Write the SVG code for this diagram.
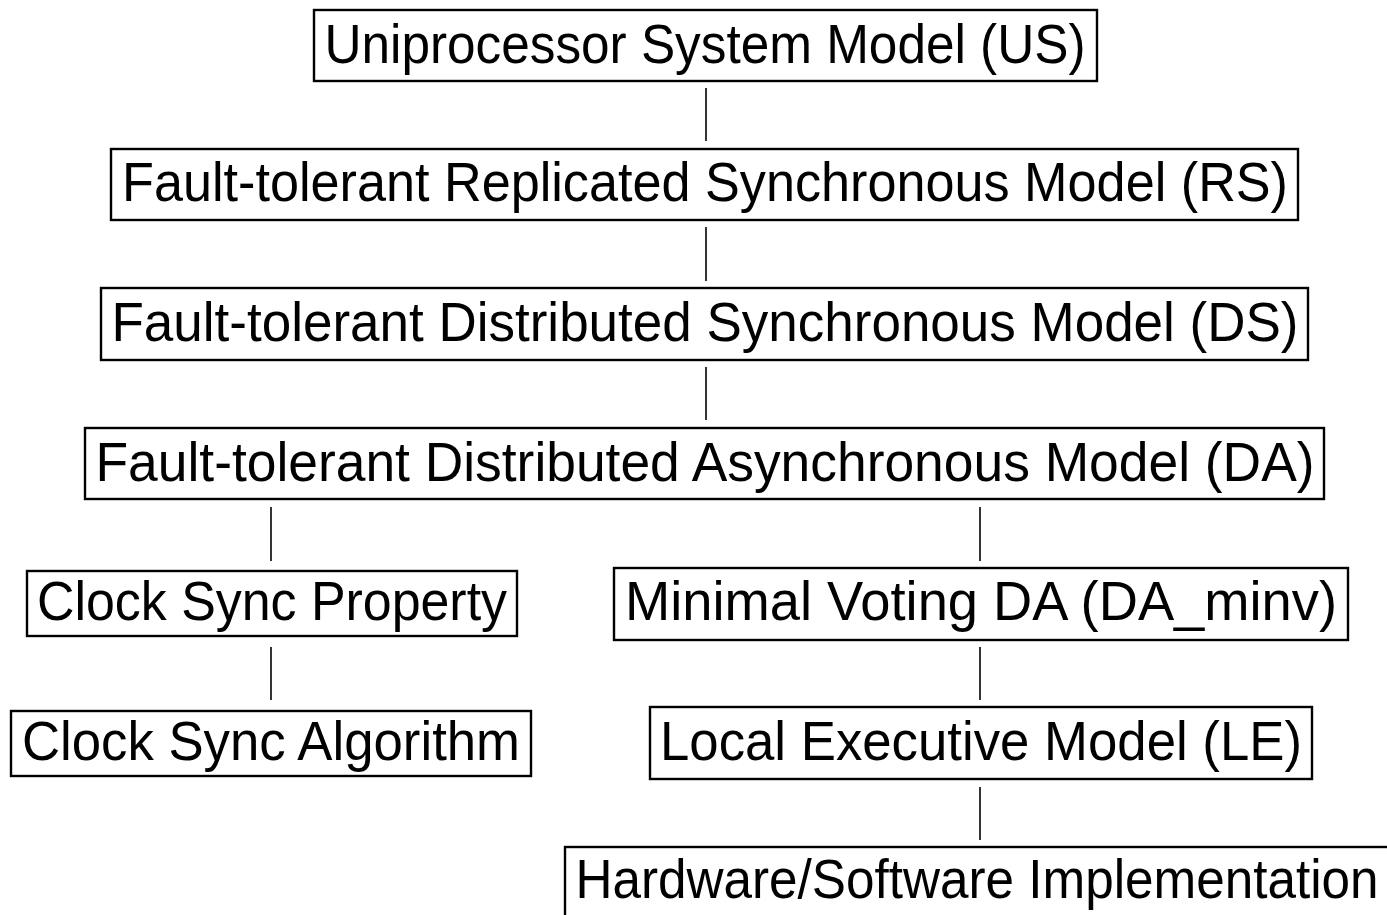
<svg xmlns="http://www.w3.org/2000/svg" width="1387" height="915" viewBox="0 0 1387 915">
<style>
.box{fill:#fff;stroke:#000;stroke-width:2.4}
.t{font-family:"Liberation Sans",Arial,sans-serif;font-size:56px;fill:#000;text-anchor:middle}
.c line{stroke:#000;stroke-width:1.6}
</style>
<rect width="1387" height="915" fill="#fff"/>
<g class="c" id="connectors">
<line x1="706" y1="88" x2="706" y2="141"/>
<line x1="706" y1="227" x2="706" y2="281"/>
<line x1="706" y1="367" x2="706" y2="420"/>
<line x1="271" y1="507" x2="271" y2="561"/>
<line x1="271" y1="647" x2="271" y2="700"/>
<line x1="980" y1="507" x2="980" y2="561"/>
<line x1="980" y1="647" x2="980" y2="700"/>
<line x1="980" y1="787" x2="980" y2="840"/>
</g>
<g id="US"><rect class="box" x="314" y="10" width="783" height="71"/><text class="t" x="705" y="63" textLength="761" lengthAdjust="spacingAndGlyphs">Uniprocessor System Model (US)</text></g>
<g id="RS"><rect class="box" x="111" y="149" width="1187" height="71"/><text class="t" x="705" y="201" textLength="1166" lengthAdjust="spacingAndGlyphs">Fault-tolerant Replicated Synchronous Model (RS)</text></g>
<g id="DS"><rect class="box" x="101" y="288" width="1207" height="72"/><text class="t" x="705" y="341" textLength="1187" lengthAdjust="spacingAndGlyphs">Fault-tolerant Distributed Synchronous Model (DS)</text></g>
<g id="DA"><rect class="box" x="85" y="428" width="1239" height="71"/><text class="t" x="705" y="481" textLength="1219" lengthAdjust="spacingAndGlyphs">Fault-tolerant Distributed Asynchronous Model (DA)</text></g>
<g id="CSP"><rect class="box" x="27" y="571" width="490" height="65"/><text class="t" x="272" y="620" textLength="470" lengthAdjust="spacingAndGlyphs">Clock Sync Property</text></g>
<g id="MV"><rect class="box" x="614" y="568" width="734" height="72"/><text class="t" x="981" y="620" textLength="712" lengthAdjust="spacingAndGlyphs">Minimal Voting DA (DA_minv)</text></g>
<g id="CSA"><rect class="box" x="11" y="711" width="520" height="65"/><text class="t" x="271" y="760" textLength="498" lengthAdjust="spacingAndGlyphs">Clock Sync Algorithm</text></g>
<g id="LE"><rect class="box" x="650" y="707" width="662" height="72"/><text class="t" x="981" y="760" textLength="642" lengthAdjust="spacingAndGlyphs">Local Executive Model (LE)</text></g>
<g id="HW"><rect class="box" x="565" y="847" width="840" height="80"/><text class="t" x="977" y="898" textLength="803" lengthAdjust="spacingAndGlyphs">Hardware/Software Implementation</text></g>
</svg>
